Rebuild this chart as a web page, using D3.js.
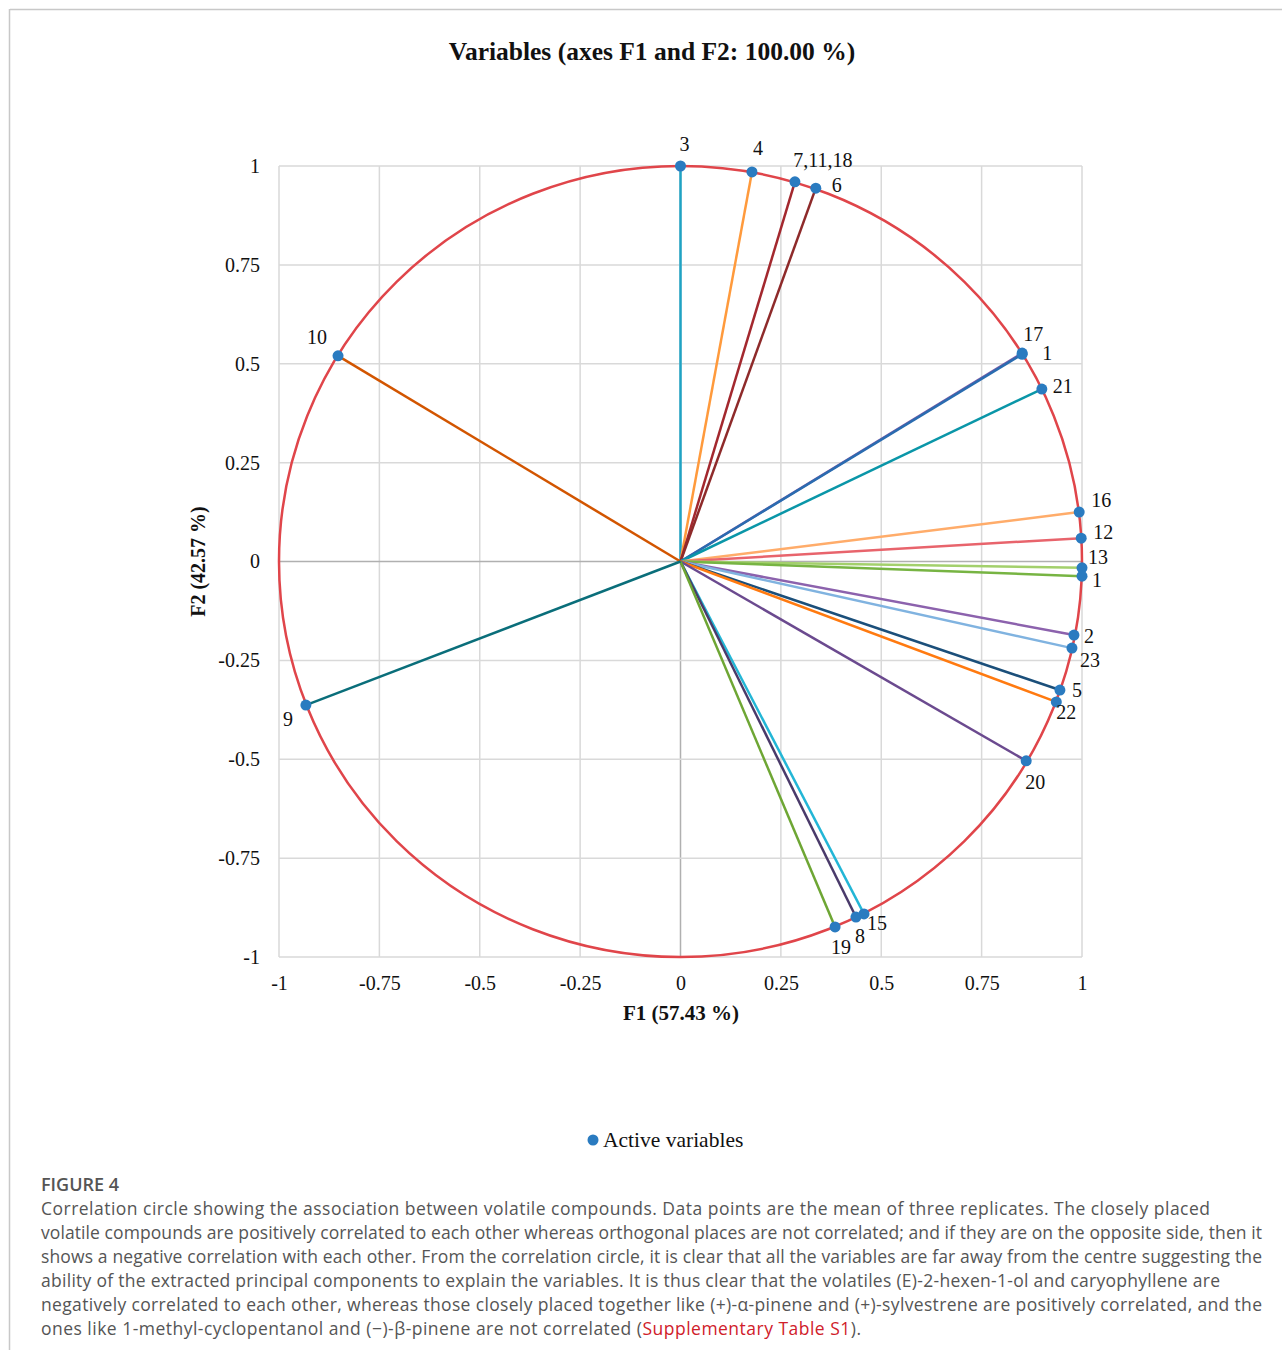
<!DOCTYPE html>
<html>
<head>
<meta charset="utf-8">
<script src="https://cdn.jsdelivr.net/npm/d3@7"></script>
<style>
  html, body { margin: 0; padding: 0; background: #fff; }
  svg { display: block; }
</style>
</head>
<body>
<svg id="chart" width="1282" height="1358"></svg>
<script>
// ---------- data ----------
const labels = ["3", "4", "7,11,18", "6", "17", "1", "21", "16", "12", "13", "1", "2", "23", "5", "22", "20", "15", "8", "19", "10", "9"];
const f1 = [0.000, 0.178, 0.285, 0.337, 0.851, 0.851, 0.900, 0.993, 0.998, 1.000, 1.000, 0.980, 0.975, 0.945, 0.936, 0.861, 0.457, 0.437, 0.385, -0.853, -0.933];
const f2 = [1.000, 0.985, 0.960, 0.944, 0.527, 0.524, 0.436, 0.125, 0.059, -0.016, -0.037, -0.186, -0.219, -0.325, -0.355, -0.504, -0.891, -0.899, -0.924, 0.520, -0.363];
const tickValues = [-1, -0.75, -0.5, -0.25, 0, 0.25, 0.5, 0.75, 1];
const tickLabels = ["-1", "-0.75", "-0.5", "-0.25", "0", "0.25", "0.5", "0.75", "1"];

// ---------- styles ----------
const lineColors = ["#1fa3c4", "#ff9a3c", "#a3282e", "#8e2a2a", "#7a5aa6", "#2a6cb0", "#0a96a8", "#ffac6a", "#e8646c", "#a3d06c", "#77b443", "#8c62ad", "#80b3e0", "#1b4f7a", "#ff7a10", "#6b4a8f", "#23b6d6", "#4a3a6a", "#6ea634", "#d25500", "#0a6e7a"];
const labelOffsets = [[4,-22],[6,-24],[28,-22],[21,-3],[11,-19],[25,-1],[21,-3],[22,-12],[22,-6],[16,-11],[15,4],[15,1],[18,12],[17,0],[10,10],[9,21],[13,9],[4,19],[6,20],[-21,-19],[-18,14]];
const serif = "'Liberation Serif', 'Times New Roman', serif";

const svg = d3.select("#chart");

// frame
svg.append("line").attr("x1", 10).attr("x2", 1282).attr("y1", 9.5).attr("y2", 9.5).attr("stroke", "#c8c8c8").attr("stroke-width", 1.5);
svg.append("line").attr("x1", 9.5).attr("x2", 9.5).attr("y1", 9).attr("y2", 1350).attr("stroke", "#c8c8c8").attr("stroke-width", 1.5);

const x = d3.scaleLinear().domain([-1, 1]).range([279, 1082]);
const y = d3.scaleLinear().domain([-1, 1]).range([957, 166]);

// title
svg.append("text").attr("x", 652).attr("y", 60).attr("text-anchor", "middle")
  .attr("font-family", serif).attr("font-weight", "bold").attr("font-size", 25.5).attr("fill", "#111")
  .text("Variables (axes F1 and F2: 100.00 %)");

// grid
const g = svg.append("g");
g.selectAll(".vg").data(tickValues).enter().append("line")
  .attr("x1", d => x(d)).attr("x2", d => x(d)).attr("y1", y(1)).attr("y2", y(-1))
  .attr("stroke", d => d === 0 ? "#b0b0b0" : "#d9d9d9").attr("stroke-width", 1.5);
g.selectAll(".hg").data(tickValues).enter().append("line")
  .attr("y1", d => y(d)).attr("y2", d => y(d)).attr("x1", x(-1)).attr("x2", x(1))
  .attr("stroke", d => d === 0 ? "#b0b0b0" : "#d9d9d9").attr("stroke-width", 1.5);

// axes tick labels via d3 axes
const xAxis = d3.axisBottom(x).tickValues(tickValues).tickFormat((d, i) => tickLabels[i]).tickSize(0).tickPadding(19);
const xa = svg.append("g").attr("transform", `translate(0,${y(-1)})`).call(xAxis);
const yAxis = d3.axisLeft(y).tickValues(tickValues).tickFormat((d, i) => tickLabels[i]).tickSize(0).tickPadding(19);
const ya = svg.append("g").attr("transform", `translate(${x(-1)},0)`).call(yAxis);
[xa, ya].forEach(a => {
  a.select(".domain").remove();
  a.selectAll("text").attr("font-family", serif).attr("font-size", 20).attr("fill", "#111");
});

// axis titles
svg.append("text").attr("x", 681).attr("y", 1020).attr("text-anchor", "middle")
  .attr("font-family", serif).attr("font-weight", "bold").attr("font-size", 21).attr("fill", "#111")
  .text("F1 (57.43 %)");
svg.append("text").attr("transform", `translate(205,${y(0)}) rotate(-90)`).attr("text-anchor", "middle")
  .attr("font-family", serif).attr("font-weight", "bold").attr("font-size", 20).attr("fill", "#111")
  .text("F2 (42.57 %)");

// vectors
const idx = d3.range(labels.length);
svg.append("g").selectAll("line").data(idx).enter().append("line")
  .attr("x1", x(0)).attr("y1", y(0))
  .attr("x2", i => x(f1[i])).attr("y2", i => y(f2[i]))
  .attr("stroke", i => lineColors[i]).attr("stroke-width", 2.5);

// circle
svg.append("ellipse").attr("cx", x(0)).attr("cy", y(0))
  .attr("rx", x(1) - x(0)).attr("ry", y(0) - y(1))
  .attr("fill", "none").attr("stroke", "#e0454a").attr("stroke-width", 2.5);

// points
svg.append("g").selectAll("circle").data(idx).enter().append("circle")
  .attr("cx", i => x(f1[i])).attr("cy", i => y(f2[i])).attr("r", 5.5)
  .attr("fill", "#2a7bc0");

// labels
svg.append("g").selectAll("text").data(idx).enter().append("text")
  .attr("x", i => x(f1[i]) + labelOffsets[i][0]).attr("y", i => y(f2[i]) + labelOffsets[i][1])
  .attr("text-anchor", "middle").attr("dominant-baseline", "central")
  .attr("font-family", serif).attr("font-size", 20).attr("fill", "#111")
  .text(i => labels[i]);

// legend
svg.append("circle").attr("cx", 593).attr("cy", 1140).attr("r", 5.5).attr("fill", "#2a7bc0");
svg.append("text").attr("x", 603).attr("y", 1147).attr("font-family", serif).attr("font-size", 21.5).attr("fill", "#111")
  .text("Active variables");

// caption
const sans = "'Open Sans', 'Noto Sans', sans-serif";
svg.append("text").attr("x", 41).attr("y", 1191).attr("font-family", sans).attr("font-size", 18)
  .attr("font-weight", 600).attr("fill", "#555").text("FIGURE 4");
const captionLines = [
  "Correlation circle showing the association between volatile compounds. Data points are the mean of three replicates. The closely placed",
  "volatile compounds are positively correlated to each other whereas orthogonal places are not correlated; and if they are on the opposite side, then it",
  "shows a negative correlation with each other. From the correlation circle, it is clear that all the variables are far away from the centre suggesting the",
  "ability of the extracted principal components to explain the variables. It is thus clear that the volatiles (E)-2-hexen-1-ol and caryophyllene are",
  "negatively correlated to each other, whereas those closely placed together like (+)-α-pinene and (+)-sylvestrene are positively correlated, and the"
];
const captionWidths = [1169, 1221, 1221, 1179, 1221, 820];
captionLines.forEach((t, i) => {
  svg.append("text").attr("x", 41).attr("y", 1215 + i * 24).attr("font-family", sans).attr("font-size", 17.5)
    .attr("textLength", captionWidths[i]).attr("lengthAdjust", "spacing").attr("fill", "#555").text(t);
});
const last = svg.append("text").attr("x", 41).attr("y", 1215 + 5 * 24).attr("font-family", sans).attr("font-size", 17.5)
  .attr("textLength", captionWidths[5]).attr("lengthAdjust", "spacing").attr("fill", "#555");
last.append("tspan").text("ones like 1-methyl-cyclopentanol and (−)-β-pinene are not correlated (");
last.append("tspan").attr("fill", "#d0202a").text("Supplementary Table S1");
last.append("tspan").text(").");
</script>
</body>
</html>
